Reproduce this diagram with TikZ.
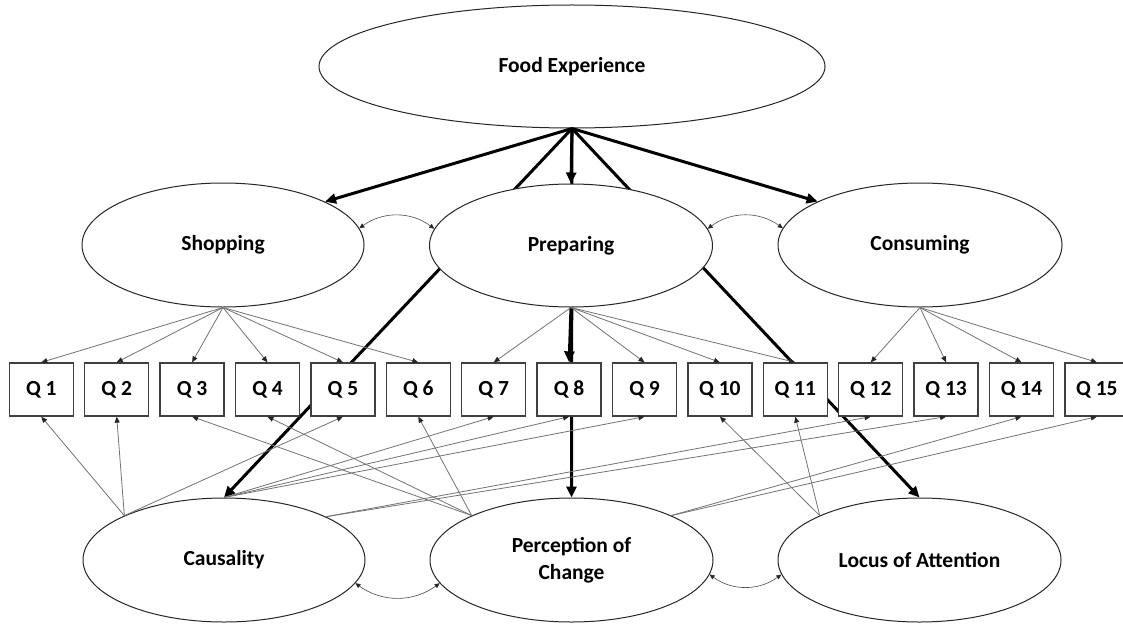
\documentclass[tikz,border=0pt]{standalone}
\usepackage{fontspec}
\setmainfont{Carlito}
\usetikzlibrary{shapes.geometric,arrows.meta}
\pgfdeclarelayer{bg}
\pgfsetlayers{bg,main}
\tikzset{
 latent/.style={ellipse,draw=black!85,line width=1pt,fill=white,inner sep=0pt,
   font=\fontsize{21.5}{27}\selectfont\bfseries,align=center},
 obs/.style={rectangle,draw=black!75,line width=1.3pt,fill=white,minimum width=64pt,
   minimum height=53pt,inner sep=0pt,font=\fontsize{21.5}{27}\selectfont\bfseries},
 heavy/.style={line width=3pt,-{Triangle[length=11pt,width=10pt]}},
 load/.style={line width=0.8pt,draw=black!55,-{Triangle[length=6pt,width=5pt,color=black!85]}},
 cov/.style={line width=0.6pt,draw=black!70,
   {Triangle[length=5pt,width=4.5pt,color=black!85]}-{Triangle[length=5pt,width=4.5pt,color=black!85]}}
}
\begin{document}
\begin{tikzpicture}[x=1pt,y=-1pt]
\useasboundingbox (0,0) rectangle (1123,623);
\clip (0,0) rectangle (1123,623);
% latent variables
\node[latent,minimum width=506pt,minimum height=123pt] (F) at (572,66.5) {Food Experience};
\node[latent,minimum width=282pt,minimum height=124pt] (S) at (223,245) {Shopping};
\node[latent,minimum width=283pt,minimum height=123pt] (P) at (571,245.5) {Preparing};
\node[latent,minimum width=284pt,minimum height=124pt] (Cn) at (920,245) {Consuming};
\node[latent,minimum width=282pt,minimum height=124pt] (Cz) at (224,560) {Causality};
\node[latent,minimum width=283pt,minimum height=124pt] (Pc) at (571.5,560) {Perception of\\Change};
\node[latent,minimum width=283pt,minimum height=124pt] (L) at (919.5,560) {Locus of Attention};
% observed items
\foreach \i in {1,...,15} {
  \node[obs] (Q\i) at ({41.3+75.4*(\i-1)},389.5) {Q \i};
}
% lines passing behind nodes
\begin{pgfonlayer}{bg}
\fill[white] (0,0) rectangle (1123,623);
\draw[heavy] (F.south) -- (Cz.north);
\draw[heavy] (F.south) -- (L.north);
\draw[heavy] (F.south) -- (Pc.north);
\end{pgfonlayer}
% second-order paths
\draw[heavy] (F.south) -- (S.23);
\draw[heavy] (F.south) -- (P.north);
\draw[heavy] (F.south) -- (Cn.157);
\draw[heavy] (P.south) -- (Q8.north);
% loadings from upper factors
\foreach \q in {1,...,6} {\draw[load] (S.south) -- (Q\q.north);}
\foreach \q in {7,9,10,11} {\draw[load] (P.south) -- (Q\q.north);}
\foreach \q in {12,...,15} {\draw[load] (Cn.south) -- (Q\q.north);}
% loadings from lower factors
\foreach \q in {1,2,5} {\draw[load] (Cz.156) -- (Q\q.south);}
\foreach \q in {7,8,9} {\draw[load] (Cz.north) -- (Q\q.south);}
\foreach \q in {12,13} {\draw[load] (Cz.23) -- (Q\q.south);}
\foreach \q in {3,4,6} {\draw[load] (Pc.156) -- (Q\q.south);}
\foreach \q in {14,15} {\draw[load] (Pc.24) -- (Q\q.south);}
\foreach \q in {10,11} {\draw[load] (L.156) -- (Q\q.south);}
% covariances
\draw[cov] (S.7) to[bend left=36] (P.173);
\draw[cov] (P.7) to[bend left=36] (Cn.173);
\draw[cov] (Cz.-10) to[bend right=36] (Pc.190);
\draw[cov] (Pc.-6) to[bend right=36] (L.186);
\end{tikzpicture}
\end{document}
